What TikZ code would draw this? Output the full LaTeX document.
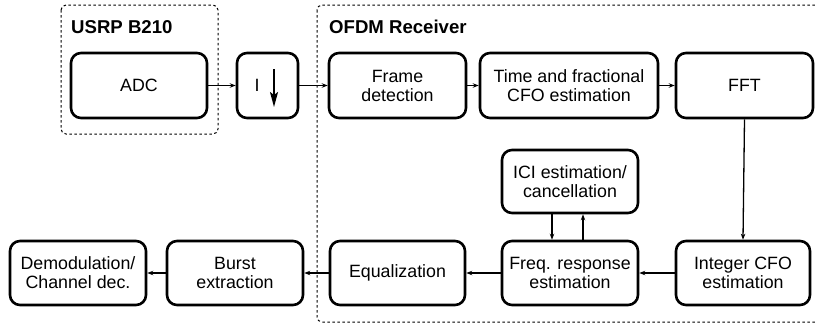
\documentclass[tikz,border=0pt]{standalone}
\usepackage{fontspec}
\setmainfont{Liberation Sans}
\usetikzlibrary{arrows.meta}
\begin{document}
\begin{tikzpicture}[x=1pt,y=-1pt,
  blk/.style={draw, line width=2.6pt, rounded corners=10pt, align=center,
    font=\fontsize{17.8}{19}\selectfont, inner sep=0pt},
  grp/.style={draw, line width=1pt, dash pattern=on 2.5pt off 2.5pt, rounded corners=5pt},
  ttl/.style={anchor=base west, font=\fontsize{18.6}{19}\selectfont\bfseries, inner sep=0pt},
  flow/.style={-{Stealth[length=6pt,width=4.5pt]}, line width=1.3pt}]
\useasboundingbox (0,0) rectangle (817,325);
\begin{scope}
\clip (0,0) rectangle (817,325);
% group frames
\draw[grp] (61,5) rectangle (218,134);
\draw[grp] (317,5) rectangle (840,322);
\end{scope}
\node[ttl] (t1) at (71,33) {USRP B210};
\node[ttl] (t2) at (329,33) {OFDM Receiver};
% top row
\node[blk, minimum width=136pt, minimum height=65pt] (adc) at (139,85.5) {ADC};
\node[blk, minimum width=61pt, minimum height=65pt] (dec) at (267.5,85.5) {};
\node[blk, minimum width=137pt, minimum height=65pt] (frame) at (397.5,85.5) {Frame\\detection};
\node[blk, minimum width=178pt, minimum height=65pt] (time) at (569,85.5) {Time and fractional\\CFO estimation};
\node[blk, minimum width=137pt, minimum height=65pt] (fft) at (744.5,85.5) {FFT};
% decimator symbol
\node[font=\fontsize{17.8}{19}\selectfont, inner sep=0pt] (ilab) at (257,85) {I};
\coordinate (dtop) at (274,69);
\coordinate (dbot) at (274,107);
\draw[-{Stealth[length=15pt,width=8pt,inset=3pt]}, line width=1.8pt] (dtop) -- (dbot);
% bottom row
\node[blk, minimum width=136pt, minimum height=64pt] (demod) at (78,273) {Demodulation/\\Channel dec.};
\node[blk, minimum width=136pt, minimum height=64pt] (burst) at (235,273) {Burst\\extraction};
\node[blk, minimum width=135pt, minimum height=64pt] (eq) at (397.5,273) {Equalization};
\node[blk, minimum width=136pt, minimum height=64pt] (freq) at (570,273) {Freq. response\\estimation};
\node[blk, minimum width=134pt, minimum height=64pt] (icfo) at (743,273) {Integer CFO\\estimation};
\node[blk, minimum width=136pt, minimum height=63pt] (ici) at (570,181.5) {ICI estimation/\\cancellation};
% connectors
\draw[flow] (adc.east) -- (dec.west);
\draw[flow] (dec.east) -- (frame.west);
\draw[flow] (frame.east) -- (time.west);
\draw[flow] (time.east) -- (fft.west);
\draw[flow] (fft.south) -- (icfo.north);
\draw[flow] (icfo.west) -- (freq.east);
\draw[flow] (freq.west) -- (eq.east);
\draw[flow] (eq.west) -- (burst.east);
\draw[flow] (burst.west) -- (demod.east);
\draw[flow] ([xshift=-18pt]ici.south) -- ([xshift=-18pt]freq.north);
\draw[flow] ([xshift=13pt]freq.north) -- ([xshift=13pt]ici.south);
\end{tikzpicture}
\end{document}
